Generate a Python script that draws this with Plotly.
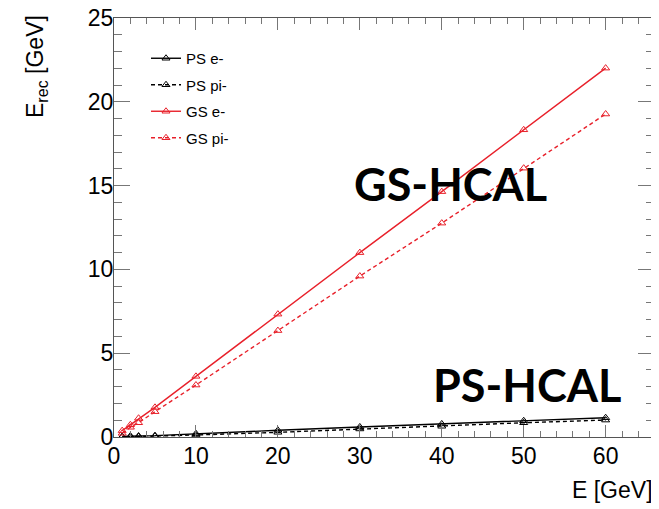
import plotly.graph_objects as go

# Data
energy = [1, 2, 3, 5, 10, 20, 30, 40, 50, 60]
ps_e = [0.03, 0.06, 0.06, 0.08, 0.20, 0.40, 0.60, 0.78, 0.97, 1.15]
ps_pi = [0.01, 0.02, 0.02, 0.05, 0.12, 0.28, 0.48, 0.64, 0.85, 1.01]
gs_e = [0.38, 0.73, 1.12, 1.77, 3.62, 7.33, 11.0, 14.64, 18.33, 22.01]
gs_pi = [0.22, 0.58, 0.85, 1.51, 3.10, 6.35, 9.6, 12.76, 16.04, 19.27]
series_names = ["PS e-", "PS pi-", "GS e-", "GS pi-"]

# The page body has an 8px margin, so the figure is drawn 8px in and down.
OFF = 8
W, H = 659 - OFF, 509 - OFF
# target plot box in window pixels: left 114, right 654, top 18, bottom 437
ML, MT = 114 - OFF, 18 - OFF
MR = OFF + W - 654
MB = 509 - 437

RED = "#e8202a"
BLACK = "#000000"

fig = go.Figure()
styles = [
    (ps_e, BLACK, "solid"),
    (ps_pi, BLACK, "4px,3px"),
    (gs_e, RED, "solid"),
    (gs_pi, RED, "4px,3px"),
]
for name, (vals, col, dash) in zip(series_names, styles):
    fig.add_trace(go.Scatter(
        x=energy, y=vals, name=name, mode="lines+markers",
        line=dict(color=col, width=1.4, dash=dash),
        marker=dict(symbol="triangle-up-open", size=7, color=col, line=dict(width=1, color=col)),
        legendgroup=name,
    ))

tickfont = dict(family="Liberation Sans, Arial, sans-serif", size=23, color="black")
axis_common = dict(
    showline=True, linecolor="#555", linewidth=1.3, mirror="ticks",
    ticks="inside", tickcolor="#777", tickwidth=1.2, automargin=False,
    showgrid=False, zeroline=False, tickfont=tickfont, ticklabeloverflow="allow",
)
fig.update_xaxes(range=[0, 65.9], dtick=10, tick0=0, ticklen=12, ticklabelstandoff=-2,
                 minor=dict(ticks="inside", dtick=2, ticklen=6, tickcolor="#777", tickwidth=1.2),
                 **axis_common)
fig.update_yaxes(range=[0, 25], dtick=5, tick0=0, ticklen=16, ticklabelstandoff=-5,
                 minor=dict(ticks="inside", dtick=1, ticklen=8, tickcolor="#777", tickwidth=1.2),
                 **axis_common)

plot_w = W - ML - MR
plot_h = H - MT - MB

def px2paper_x(px):
    return (px - OFF - ML) / plot_w

def px2paper_y(py):
    return (OFF + H - MB - py) / plot_h

annos = [
    dict(text="E<sub>rec</sub> [GeV]", x=px2paper_x(37), y=px2paper_y(67), textangle=-90,
         font=dict(family="Liberation Sans, Arial, sans-serif", size=23, color="black")),
    dict(text="E [GeV]", x=px2paper_x(655), y=px2paper_y(490), xanchor="right",
         font=dict(family="Liberation Sans, Arial, sans-serif", size=23, color="black")),
    dict(text="<b>GS-HCAL</b>", x=px2paper_x(450), y=px2paper_y(184),
         font=dict(family="Lato, sans-serif", size=45, color="black")),
    dict(text="<b>PS-HCAL</b>", x=px2paper_x(527), y=px2paper_y(385),
         font=dict(family="Lato, sans-serif", size=45, color="black")),
]
for a in annos:
    a.setdefault("xanchor", "center")
    a.setdefault("yanchor", "middle")
    fig.add_annotation(xref="paper", yref="paper", showarrow=False, **a)

fig.update_layout(
    width=W, height=H,
    margin=dict(l=ML, r=MR, t=MT, b=MB, autoexpand=False),
    paper_bgcolor="white", plot_bgcolor="white",
    showlegend=True,
    legend=dict(
        x=px2paper_x(146), y=px2paper_y(42), xanchor="left", yanchor="top",
        bgcolor="rgba(0,0,0,0)", borderwidth=0,
        font=dict(family="Liberation Sans, Arial, sans-serif", size=15, color="black"),
        tracegroupgap=4, itemwidth=30,
    ),
)

fig.write_html("out.html")
